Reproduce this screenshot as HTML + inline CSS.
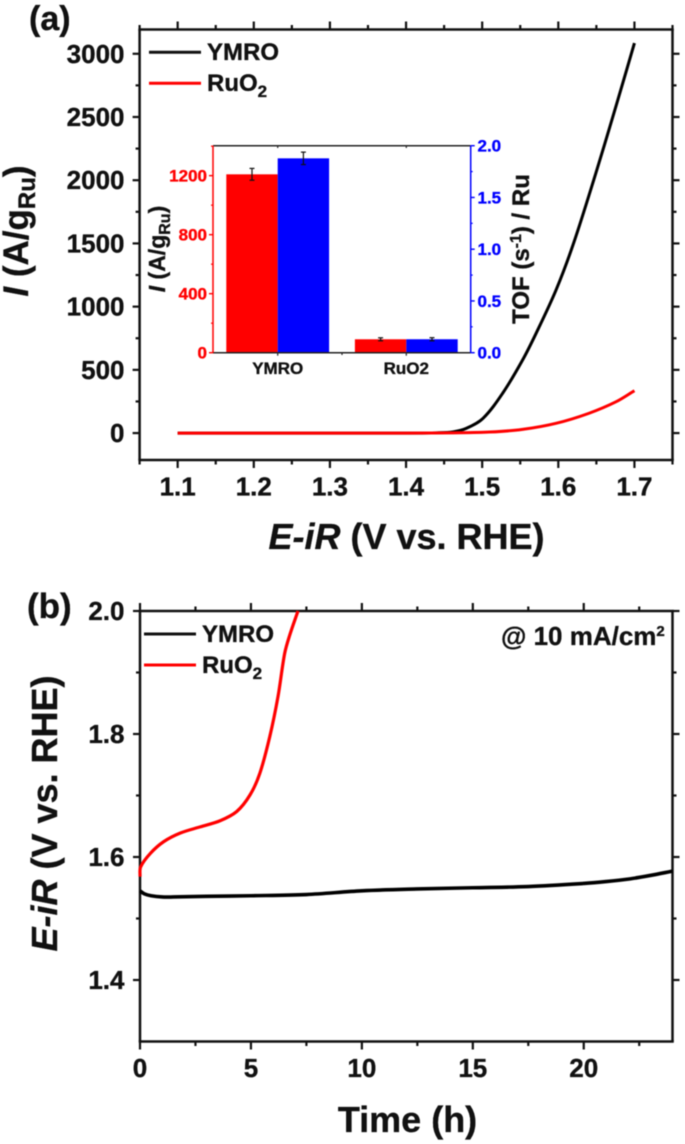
<!DOCTYPE html>
<html>
<head>
<meta charset="utf-8">
<title>YMRO vs RuO2 OER charts</title>
<style>
html,body{margin:0;padding:0;background:#fff;width:685px;height:1144px;overflow:hidden}
svg{display:block;font-family:"Liberation Sans",Arial,sans-serif;font-weight:bold;fill:#111;filter:blur(0.4px)}
text{stroke:#111;stroke-width:.35}
</style>
</head>
<body>
<svg id="figure" width="685" height="1144" viewBox="0 0 685 1144" xmlns="http://www.w3.org/2000/svg">
  <rect x="0" y="0" width="685" height="1144" fill="#fff"/>

  <g id="panel-a"></g>
  <g id="panel-inset"></g>
  <g id="panel-b"></g>

  <text x="29" y="30" font-size="34">(a)</text>
  <text x="27" y="618" font-size="35">(b)</text>

  <text transform="translate(28,231) rotate(-90)" text-anchor="middle" font-size="35"><tspan font-style="italic">I</tspan> (A/g<tspan font-size="24" dy="7">Ru</tspan><tspan dy="-7">)</tspan></text>
  <text x="406.5" y="549" text-anchor="middle" font-size="36"><tspan font-style="italic">E-iR</tspan> (V vs. RHE)</text>

  <line x1="149" x2="201" y1="52.3" y2="52.3" stroke="#111" stroke-width="3"/>
  <text x="207" y="60" font-size="24">YMRO</text>
  <line x1="149" x2="201" y1="83.3" y2="83.3" stroke="#f00" stroke-width="3"/>
  <text x="207" y="91" font-size="24">RuO<tspan font-size="17" dy="6">2</tspan></text>

  <text transform="translate(165,249) rotate(-90)" text-anchor="middle" font-size="23"><tspan font-style="italic">I</tspan> (A/g<tspan font-size="16" dy="5">Ru</tspan><tspan dy="-5">)</tspan></text>
  <text transform="translate(529,249) rotate(-90)" text-anchor="middle" font-size="24">TOF (s<tspan font-size="16" dy="-8">-1</tspan><tspan dy="8">) / Ru</tspan></text>

  <text transform="translate(57,813.5) rotate(-90)" text-anchor="middle" font-size="36"><tspan font-style="italic">E-iR</tspan> (V vs. RHE)</text>
  <text x="407.5" y="1132" text-anchor="middle" font-size="36">Time (h)</text>

  <line x1="144" x2="196" y1="634" y2="634" stroke="#111" stroke-width="3"/>
  <text x="202" y="642" font-size="24">YMRO</text>
  <line x1="144" x2="196" y1="665" y2="665" stroke="#f00" stroke-width="3"/>
  <text x="202" y="673" font-size="24">RuO<tspan font-size="17" dy="6">2</tspan></text>
  <text x="501" y="645" font-size="26">@ 10 mA/cm<tspan font-size="15" dy="-9">2</tspan></text>
</svg>

<script>
// Panel (a): LSV curves
const aYmroV = [1.1, 1.2, 1.3, 1.4, 1.44, 1.462, 1.479, 1.501, 1.527, 1.553, 1.571, 1.597, 1.62, 1.649, 1.676, 1.7];
const aYmroI = [0, 0, 0, 0, 2, 10, 37, 116, 316, 577, 791, 1131, 1500, 2050, 2590, 3085];
const aRuo2V = [1.1, 1.2, 1.3, 1.4, 1.462, 1.51, 1.553, 1.597, 1.64, 1.676, 1.7];
const aRuo2I = [0, 0, 0, 0, 2, 8, 29, 77, 156, 248, 335];
const aXTicks = [1.1, 1.2, 1.3, 1.4, 1.5, 1.6, 1.7];
const aXLabels = ['1.1', '1.2', '1.3', '1.4', '1.5', '1.6', '1.7'];
const aYTicks = [0, 500, 1000, 1500, 2000, 2500, 3000];
const aYLabels = ['0', '500', '1000', '1500', '2000', '2500', '3000'];

// Inset: bars
const insetCategories = ['YMRO', 'RuO2'];
const insetMass = [1209, 91];
const insetMassErr = [40, 10];
const insetTof = [1.878, 0.13];
const insetTofErr = [0.06, 0.015];
const insetLeftTicks = [0, 400, 800, 1200];
const insetLeftLabels = ['0', '400', '800', '1200'];
const insetRightTicks = [0, 0.5, 1, 1.5, 2];
const insetRightLabels = ['0.0', '0.5', '1.0', '1.5', '2.0'];

// Panel (b): stability curves
const bYmroT = [0, 0.2, 0.5, 1, 1.5, 3, 5, 7.5, 10, 12.5, 15, 17.5, 20, 21, 22, 23, 24];
const bYmroE = [1.545, 1.54, 1.537, 1.535, 1.535, 1.536, 1.537, 1.539, 1.545, 1.548, 1.55, 1.552, 1.557, 1.56, 1.564, 1.57, 1.577];
const bRuo2T = [0, 0.03, 0.47, 1.07, 1.82, 2.71, 3.61, 4.36, 4.96, 5.4, 5.85, 6.22, 6.52, 6.75, 7.12];
const bRuo2E = [1.568, 1.584, 1.606, 1.625, 1.639, 1.649, 1.659, 1.674, 1.701, 1.736, 1.796, 1.861, 1.931, 1.961, 2.0];
const bXTicks = [0, 5, 10, 15, 20];
const bXLabels = ['0', '5', '10', '15', '20'];
const bYTicks = [1.4, 1.6, 1.8, 2.0];
const bYLabels = ['1.4', '1.6', '1.8', '2.0'];

const NS = 'http://www.w3.org/2000/svg';
function linear(d0, d1, r0, r1) {
  return function (v) { return r0 + (v - d0) * (r1 - r0) / (d1 - d0); };
}
function addLine(parent, x1, y1, x2, y2, color, width, name) {
  const el = document.createElementNS(NS, 'line');
  el.setAttribute('x1', x1);
  el.setAttribute('y1', y1);
  el.setAttribute('x2', x2);
  el.setAttribute('y2', y2);
  el.setAttribute('stroke', color);
  el.setAttribute('stroke-width', width);
  
  
  parent.appendChild(el);
  return el;
}
function addText(parent, x, y, str, size, anchor, color, name) {
  const el = document.createElementNS(NS, 'text');
  el.setAttribute('x', x);
  el.setAttribute('y', y);
  el.setAttribute('font-size', size);
  el.setAttribute('text-anchor', anchor);
  el.setAttribute('fill', color);
  el.style.stroke = color;
  el.textContent = str;
  
  
  parent.appendChild(el);
  return el;
}
function addRect(parent, x, y, w, h, color, name) {
  const el = document.createElementNS(NS, 'rect');
  el.setAttribute('x', x);
  el.setAttribute('y', y);
  el.setAttribute('width', w);
  el.setAttribute('height', h);
  el.setAttribute('fill', color);
  
  
  parent.appendChild(el);
  return el;
}
function tangent(a, c) {
  const dx = c[0] - a[0], dy = c[1] - a[1];
  const len = Math.sqrt(dx * dx + dy * dy) || 1;
  return [dx / len, dy / len];
}
function addCurve(parent, xs, ys, sx, sy, color, width, name) {
  const p = xs.map(function (x, i) { return [sx(x), sy(ys[i])]; });
  let d = 'M' + p[0][0].toFixed(2) + ' ' + p[0][1].toFixed(2);
  for (let i = 0; i < p.length - 1; i++) {
    const a = p[Math.max(i - 1, 0)], b = p[i], c = p[i + 1], e = p[Math.min(i + 2, p.length - 1)];
    const t1 = tangent(a, c), t2 = tangent(b, e);
    const seg = Math.sqrt(Math.pow(c[0] - b[0], 2) + Math.pow(c[1] - b[1], 2)) / 3;
    d += 'C' + (b[0] + t1[0] * seg).toFixed(2) + ' ' + (b[1] + t1[1] * seg).toFixed(2) + ' ' + (c[0] - t2[0] * seg).toFixed(2) + ' ' + (c[1] - t2[1] * seg).toFixed(2) + ' ' + c[0].toFixed(2) + ' ' + c[1].toFixed(2);
  }
  const el = document.createElementNS(NS, 'path');
  el.setAttribute('d', d);
  el.setAttribute('fill', 'none');
  el.setAttribute('stroke', color);
  el.setAttribute('stroke-width', width);
  el.setAttribute('stroke-linejoin', 'round');
  
  
  parent.appendChild(el);
  return el;
}
function drawFrame(g, sx, sy, xD, yD, xT, yT, prefix) {
  const L = sx(xD[0]), R = sx(xD[1]), B = sy(yD[0]), T = sy(yD[1]);
  const ink = '#111';
  const xMinor = xT.slice(0, -1).map(function (v, i) { return (v + xT[i + 1]) / 2; });
  xMinor.push(xT[0] - (xT[1] - xT[0]) / 2, xT[xT.length - 1] + (xT[1] - xT[0]) / 2);
  const yMinor = yT.slice(0, -1).map(function (v, i) { return (v + yT[i + 1]) / 2; });
  yMinor.push(yT[0] - (yT[1] - yT[0]) / 2, yT[yT.length - 1] + (yT[1] - yT[0]) / 2);
  xT.forEach(function (v) {
    addLine(g, sx(v), B, sx(v), B + 8, ink, 2.2, prefix + '-x-tick');
    addLine(g, sx(v), T, sx(v), T - 8, ink, 2.2, prefix + '-top-tick');
  });
  xMinor.filter(function (v) { return v >= xD[0] && v <= xD[1]; }).forEach(function (v) {
    addLine(g, sx(v), B, sx(v), B + 4.5, ink, 2.2, prefix + '-x-minor-tick');
    addLine(g, sx(v), T, sx(v), T - 4.5, ink, 2.2, prefix + '-top-minor-tick');
  });
  yT.forEach(function (v) {
    addLine(g, L, sy(v), L - 7, sy(v), ink, 2.2, prefix + '-y-tick');
    addLine(g, R, sy(v), R + 7, sy(v), ink, 2.2, prefix + '-right-tick');
  });
  yMinor.filter(function (v) { return v >= yD[0] && v <= yD[1]; }).forEach(function (v) {
    addLine(g, L, sy(v), L - 4, sy(v), ink, 2.2, prefix + '-y-minor-tick');
    addLine(g, R, sy(v), R + 4, sy(v), ink, 2.2, prefix + '-right-minor-tick');
  });
  addLine(g, L - 1.25, T, R + 1.25, T, ink, 2.5, prefix + '-frame-top');
  addLine(g, L - 1.25, B, R + 1.25, B, ink, 2.5, prefix + '-frame-bottom');
  addLine(g, L, T, L, B, ink, 2.5, prefix + '-frame-left');
  addLine(g, R, T, R, B, ink, 2.5, prefix + '-frame-right');
}

// ---- Panel (a)
const gA = document.getElementById('panel-a');
const aXD = [1.05, 1.75], aYD = [-213, 3192];
const xA = linear(aXD[0], aXD[1], 139.6, 672.5);
const yA = linear(aYD[0], aYD[1], 460, 29.5);
drawFrame(gA, xA, yA, aXD, aYD, aXTicks, aYTicks, 'a');
aXTicks.forEach(function (v, i) {
  addText(gA, xA(v), 495.5, aXLabels[i], 26, 'middle', '#111', 'a-x-tick-label');
});
aYTicks.forEach(function (v, i) {
  addText(gA, 124.5, yA(v) + 9, aYLabels[i], 26, 'end', '#111', 'a-y-tick-label');
});
addCurve(gA, aYmroV, aYmroI, xA, yA, '#000', 3, 'a-curve-ymro');
addCurve(gA, aRuo2V, aRuo2I, xA, yA, '#f00', 3, 'a-curve-ruo2');

// ---- Inset
const gI = document.getElementById('panel-inset');
const cx = linear(0, 1, 277.7, 406.3);
const bandW = 51.4;
const iL = 213, iR = 470.7;
const yMass = linear(0, 1403, 352.7, 145.7);
const yTof = linear(0, 2, 352.7, 145.7);
insetCategories.forEach(function (c, i) {
  addRect(gI, cx(i) - bandW, yMass(insetMass[i]), bandW, yMass(0) - yMass(insetMass[i]), '#f00', 'bar-mass-activity-' + c.toLowerCase());
  addRect(gI, cx(i), yTof(insetTof[i]), bandW, yTof(0) - yTof(insetTof[i]), '#00f', 'bar-tof-' + c.toLowerCase());
  const m = cx(i) - bandW / 2, n = cx(i) + bandW / 2;
  addLine(gI, m, yMass(insetMass[i] + insetMassErr[i]), m, yMass(insetMass[i] - insetMassErr[i]), '#111', 1.2, 'error-bar-mass');
  addLine(gI, m - 2.5, yMass(insetMass[i] + insetMassErr[i]), m + 2.5, yMass(insetMass[i] + insetMassErr[i]), '#111', 1.2, 'error-cap-mass');
  addLine(gI, m - 2.5, yMass(insetMass[i] - insetMassErr[i]), m + 2.5, yMass(insetMass[i] - insetMassErr[i]), '#111', 1.2, 'error-cap-mass');
  addLine(gI, n, yTof(insetTof[i] + insetTofErr[i]), n, yTof(insetTof[i] - insetTofErr[i]), '#111', 1.2, 'error-bar-tof');
  addLine(gI, n - 2.5, yTof(insetTof[i] + insetTofErr[i]), n + 2.5, yTof(insetTof[i] + insetTofErr[i]), '#111', 1.2, 'error-cap-tof');
  addLine(gI, n - 2.5, yTof(insetTof[i] - insetTofErr[i]), n + 2.5, yTof(insetTof[i] - insetTofErr[i]), '#111', 1.2, 'error-cap-tof');
  addLine(gI, cx(i), 352.7, cx(i), 355.7, '#222', 1.2, 'inset-x-tick');
  addLine(gI, cx(i), 145.7, cx(i), 148, '#222', 1.2, 'inset-top-tick');
  addText(gI, cx(i), 374, c, 17, 'middle', '#111', 'inset-x-label');
});
addLine(gI, cx(0.5), 352.7, cx(0.5), 355, '#222', 1.2, 'inset-x-minor-tick');
addLine(gI, iL, 145.7, iR, 145.7, '#222', 1.5, 'inset-frame-top');
addLine(gI, iL, 352.7, iR, 352.7, '#222', 1.5, 'inset-frame-bottom');
addLine(gI, iL, 145.7, iL, 352.7, '#f00', 1.5, 'inset-left-axis');
addLine(gI, iR, 145.7, iR, 352.7, '#00f', 1.5, 'inset-right-axis');
insetLeftTicks.forEach(function (v, i) {
  addLine(gI, iL, yMass(v), iL - 4, yMass(v), '#f00', 1.4, 'inset-left-tick');
  addLine(gI, iL, yMass(v + 200), iL - 2, yMass(v + 200), '#f00', 1.2, 'inset-left-minor-tick');
  addText(gI, 207, yMass(v) + 6, insetLeftLabels[i], 17, 'end', '#f00', 'inset-left-tick-label');
});
insetRightTicks.forEach(function (v, i) {
  addLine(gI, iR, yTof(v), iR + 4, yTof(v), '#00f', 1.4, 'inset-right-tick');
  if (v < 2) {
    addLine(gI, iR, yTof(v + 0.25), iR + 2, yTof(v + 0.25), '#00f', 1.2, 'inset-right-minor-tick');
  }
  addText(gI, 477.5, yTof(v) + 6, insetRightLabels[i], 17, 'start', '#00f', 'inset-right-tick-label');
});

// ---- Panel (b)
const gB = document.getElementById('panel-b');
const bXD = [0, 24], bYD = [1.3, 2.0];
const xB = linear(bXD[0], bXD[1], 140, 672.5);
const yB = linear(bYD[0], bYD[1], 1041.5, 611);
drawFrame(gB, xB, yB, bXD, bYD, bXTicks, bYTicks, 'b');
bXTicks.forEach(function (v, i) {
  addText(gB, xB(v), 1077, bXLabels[i], 26, 'middle', '#111', 'b-x-tick-label');
});
bYTicks.forEach(function (v, i) {
  addText(gB, 124.5, yB(v) + 9, bYLabels[i], 26, 'end', '#111', 'b-y-tick-label');
});
addCurve(gB, bYmroT, bYmroE, xB, yB, '#000', 3.6, 'b-curve-ymro');
addCurve(gB, bRuo2T, bRuo2E, xB, yB, '#f00', 3.2, 'b-curve-ruo2');
</script>
</body>
</html>
